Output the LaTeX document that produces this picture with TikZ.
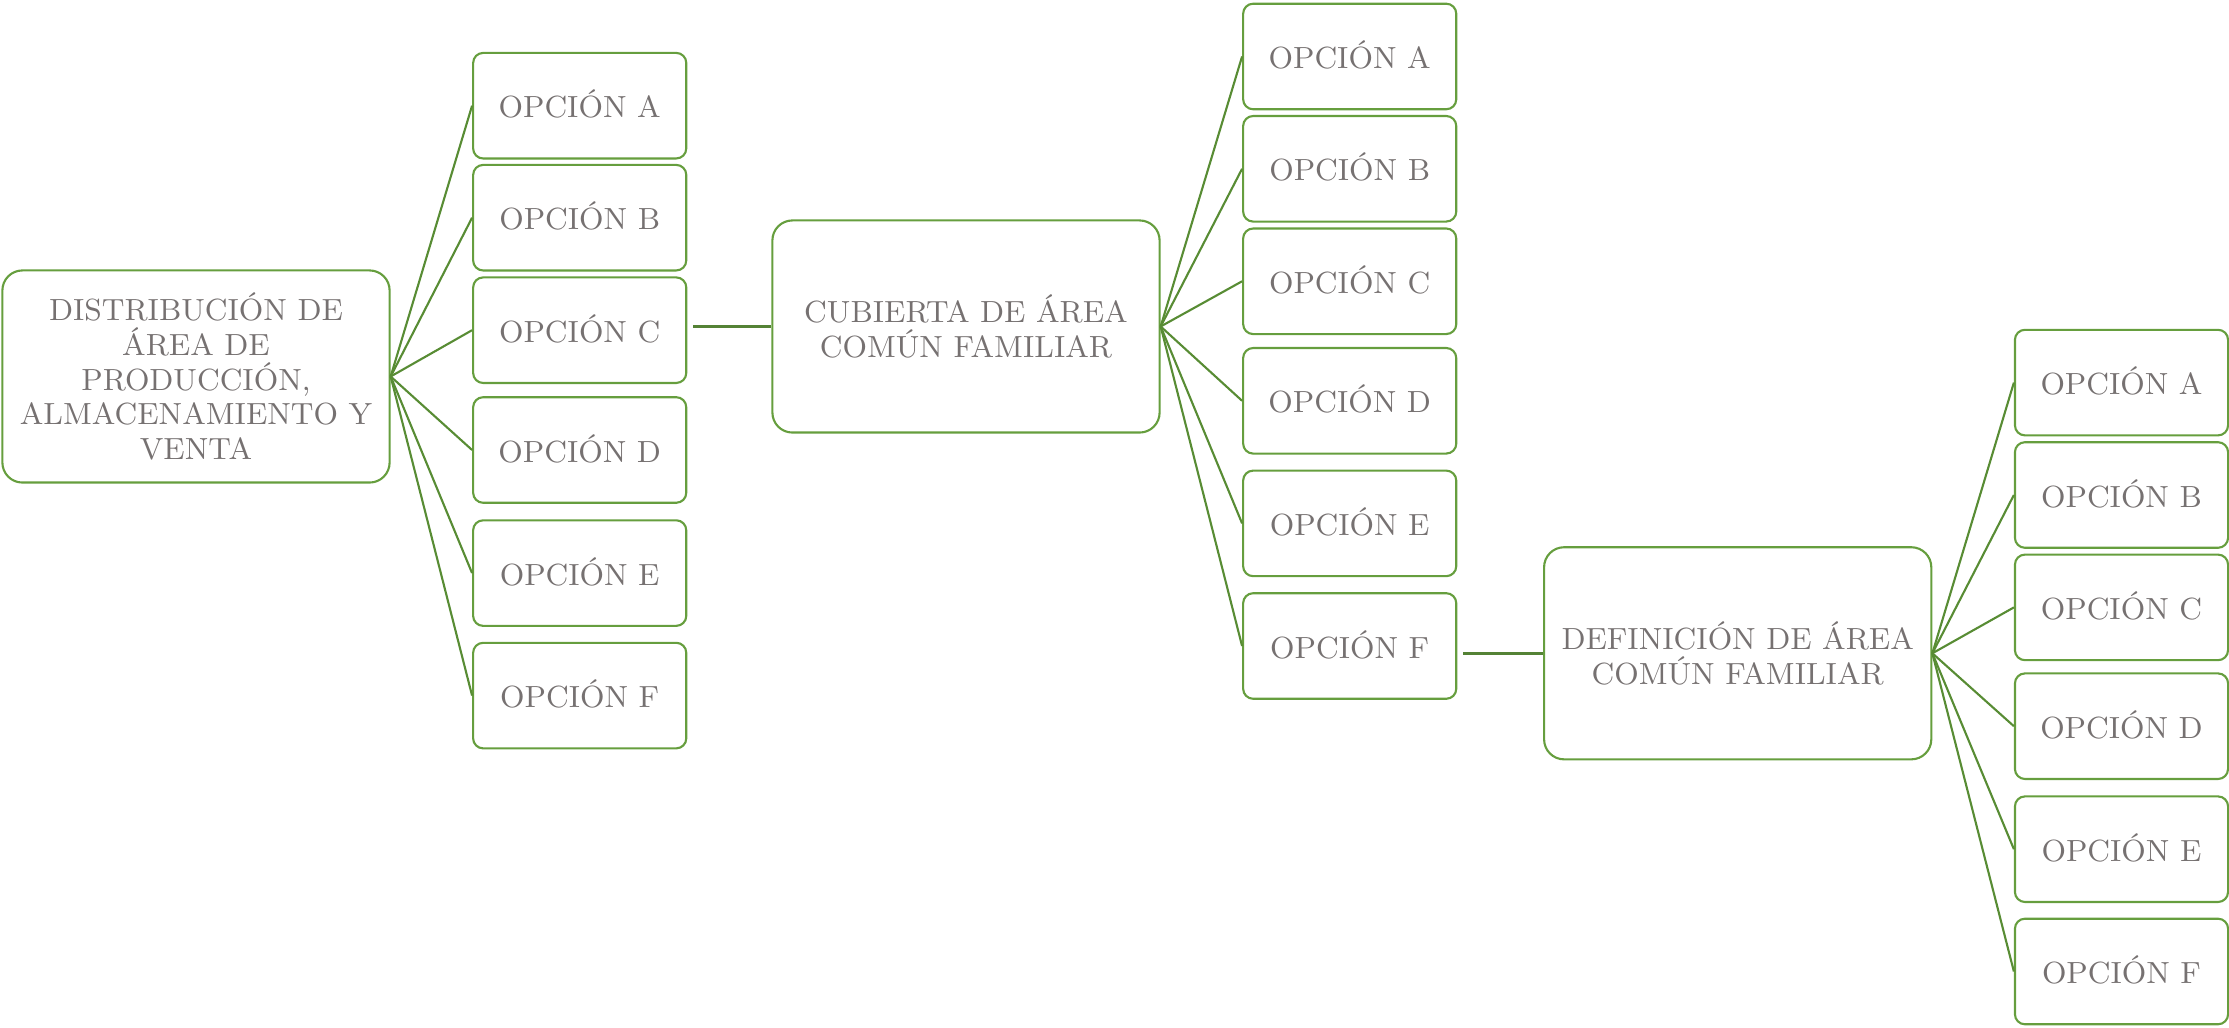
\documentclass[tikz,border=0pt]{standalone}
\usepackage{fontspec}
\usepackage{tikz}
\usetikzlibrary{positioning,calc}
\definecolor{opBox}{RGB}{102,158,62}
\definecolor{opFan}{RGB}{88,140,52}
\definecolor{opLink}{RGB}{84,130,53}
\definecolor{opText}{RGB}{118,113,113}

\begin{document}
\begin{tikzpicture}[
  x=0.01cm, y=-0.01cm,
  font=\fontsize{8.7}{9.85}\selectfont,
  opt/.style={
    draw=opBox, rounded corners=0.1cm, line width=0.6pt, text=opText,
    minimum width=2.13cm, minimum height=1.055cm, inner sep=1pt,
    text height=0.683em, text depth=0pt
  },
  main/.style={
    draw=opBox, rounded corners=0.2cm, line width=0.6pt, text=opText,
    minimum width=3.87cm, minimum height=2.12cm, inner sep=2pt, align=center
  },
  fan/.style={opFan, line width=0.6pt},
  link/.style={opLink, line width=0.95pt}
]
% Fixed page size (same proportions as the reference)
\useasboundingbox (0,0) rectangle (2229,1028);

% main boxes
\node[main] (dist) at (196,376.5)
  {DISTRIBUCIÓN DE\\ÁREA DE\\PRODUCCIÓN,\\ALMACENAMIENTO Y\\VENTA};
\node[main] (cub) at (966,326.5) {CUBIERTA DE ÁREA\\COMÚN FAMILIAR};
\node[main] (defi) at (1737.7,653.3) {DEFINICIÓN DE ÁREA\\COMÚN FAMILIAR};

% option columns
\foreach \n/\y in {A/105.7,B/217.7,C/330.2,D/450,E/573.1,F/695.6}
  \node[opt] (l\n) at (579.7,\y) {OPCIÓN \n};
\foreach \n/\y in {A/56.5,B/168.8,C/281.3,D/400.8,E/523.4,F/646}
  \node[opt] (m\n) at (1349.7,\y) {OPCIÓN \n};
\foreach \n/\y in {A/382.6,B/495,C/607.4,D/726.2,E/849.2,F/971.5}
  \node[opt] (r\n) at (2121.5,\y) {OPCIÓN \n};

% fans
\foreach \n in {A,B,C,D,E,F} {
  \draw[fan] (dist.east) -- (l\n.west);
  \draw[fan] (cub.east) -- (m\n.west);
  \draw[fan] (defi.east) -- (r\n.west);
}

% links to the next level
\draw[link] ([xshift=0.06cm]lC.east |- cub.west) -- (cub.west);
\draw[link] ([xshift=0.06cm]mF.east |- defi.west) -- (defi.west);

\end{tikzpicture}
\end{document}
